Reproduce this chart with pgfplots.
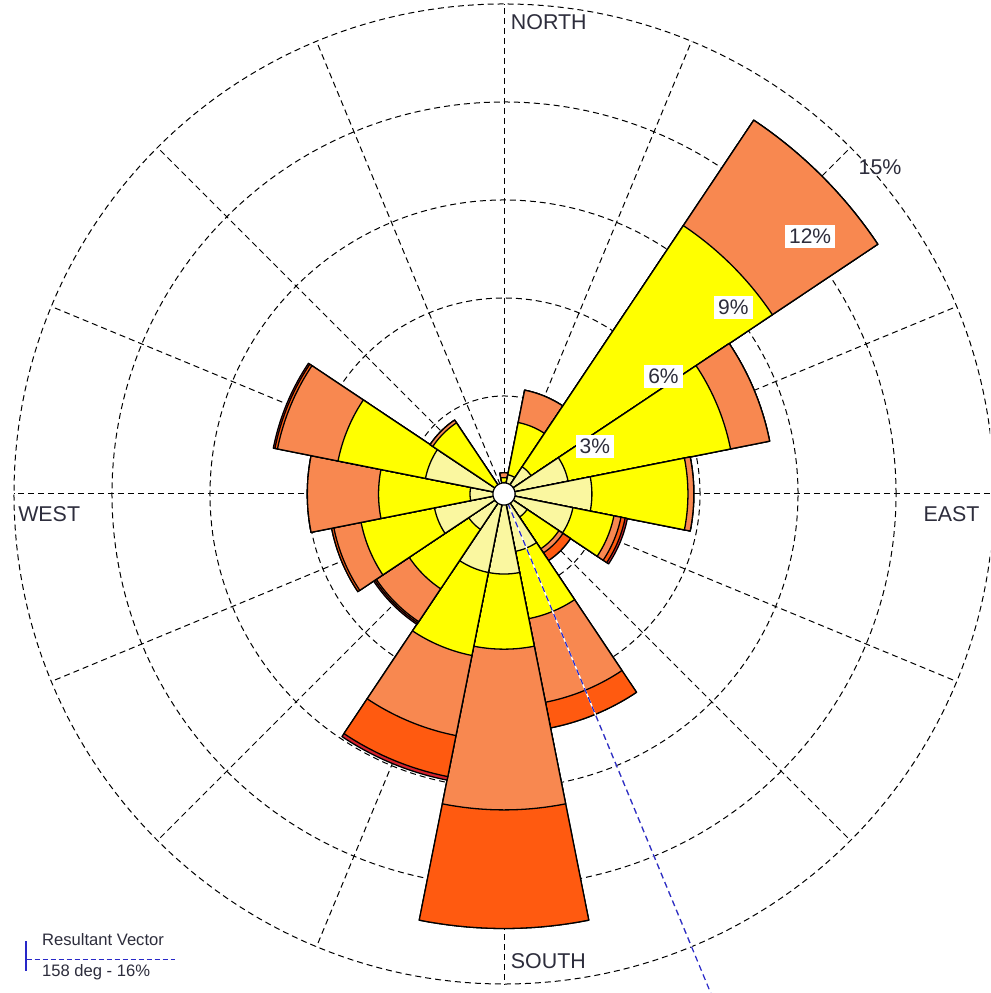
\documentclass[border=0pt]{standalone}
\usepackage{pgfplots}
\pgfplotsset{compat=1.18}
\usepackage{pgfplotstable}
\usepackage{fontspec}
\setmainfont{Liberation Sans}

% wind speed classes, innermost first
\definecolor{cls1}{RGB}{250,247,160}
\definecolor{cls2}{RGB}{255,255,0}
\definecolor{cls3}{RGB}{248,136,80}
\definecolor{cls4}{RGB}{255,90,16}
\definecolor{cls5}{RGB}{215,35,45}
\definecolor{vecblue}{RGB}{40,40,200}
\definecolor{labtext}{RGB}{45,45,60}

% cumulative frequency (%) per direction (bearing, deg) and speed class
\pgfplotstableread{
dir    c1    c2    c3     c4     c5
0      0.35  0.50  0.65   0.65   0.65
22.5   0.60  2.23  3.24   3.24   3.24
45     1.00  9.88  13.76  13.76  13.76
67.5   2.00  7.07  8.29   8.29   8.29
90     2.69  5.63  5.81   5.81   5.81
112.5  2.15  3.43  3.65   3.78   3.85
135    0.85  2.02  2.17   2.45   2.45
157.5  1.79  3.89  6.50   7.30   7.30
180    2.45  4.75  9.67   13.30  13.30
202.5  2.45  5.04  7.54   8.82   8.93
225    1.30  3.49  4.70   4.75   4.80
247.5  2.17  4.46  5.31   5.38   5.38
270    1.04  3.84  6.02   6.02   6.02
292.5  2.45  5.18  7.07   7.15   7.20
315    0.30  2.62  2.72   2.72   2.72
337.5  0.20  0.25  0.25   0.25   0.25
}\rosedata

\tikzset{
  gridline/.style={draw=black, line width=0.5pt, dash pattern=on 3pt off 2pt, mark=none},
  petal/.style={draw=black, line width=0.65pt, line join=round, mark=none},
  pctlabel/.style={fill=white, inner sep=2pt, text=labtext, font=\fontsize{10.5}{12}\selectfont},
  dirlabel/.style={text=labtext, inner sep=0pt, font=\fontsize{10.7}{12}\selectfont},
}

\begin{document}
\begin{tikzpicture}
\begin{axis}[
  scale only axis,
  width=495pt, height=496.5pt,
  xmin=-15.427, xmax=14.876,
  ymin=-15.274, ymax=15.121,
  hide axis,
  clip=true,
]
\fill[white] (rel axis cs:0,0) rectangle (rel axis cs:1,1);

% polar grid: rings every 3 % and 16 spokes
\pgfplotsinvokeforeach{3,6,9,12,15}{
  \addplot[gridline, domain=0:360, samples=241] ({#1*cos(x)},{#1*sin(x)});
}
\pgfplotsinvokeforeach{0,22.5,45,67.5,90,112.5,135,157.5,180,202.5,225,247.5,270,292.5,315,337.5}{
  \addplot[gridline, domain=0:15, samples=2] ({x*sin(#1)},{x*cos(#1)});
}

% petals: outer classes first, inner classes painted over them
\pgfplotsinvokeforeach{0,1,2,3,4,5,6,7,8,9,10,11,12,13,14,15}{
  \pgfplotstablegetelem{#1}{dir}\of\rosedata
  \pgfmathsetmacro\da{\pgfplotsretval-11.25}
  \pgfmathsetmacro\db{\pgfplotsretval+11.25}
  \foreach \k/\col in {5/cls5,4/cls4,3/cls3,2/cls2,1/cls1}{
    \edef\doget{\noexpand\pgfplotstablegetelem{#1}{c\k}\noexpand\of\noexpand\rosedata}\doget
    \edef\doit{\noexpand\addplot[petal, fill=\col, domain=\da:\db, samples=19]
      ({\pgfplotsretval*sin(x)},{\pgfplotsretval*cos(x)}) -- (axis cs:0,0) -- cycle;}\doit
  }
}

% resultant vector, 158 deg
\addplot[draw=white, line width=0.7pt, domain=0:16.8, samples=2] ({x*sin(157.5)},{x*cos(157.5)});
\addplot[draw=vecblue, line width=0.6pt, dash pattern=on 3pt off 2pt, domain=0:16.8, samples=2] ({x*sin(157.5)},{x*cos(157.5)});

% calm circle
\addplot[fill=white, draw=black, line width=0.65pt, domain=0:360, samples=61] ({0.34*cos(x)},{0.34*sin(x)}) -- cycle;

% ring labels
\node[pctlabel] at (axis cs:2.78,1.45) {3\%};
\node[pctlabel] at (axis cs:4.88,3.60) {6\%};
\node[pctlabel] at (axis cs:7.02,5.70) {9\%};
\node[pctlabel] at (axis cs:9.37,7.89) {12\%};
\node[dirlabel] at (axis cs:11.51,10.0) {15\%};

% compass labels
\node[dirlabel, anchor=west] at (axis cs:0.20,14.43) {NORTH};
\node[dirlabel, anchor=west] at (axis cs:0.20,-14.31) {SOUTH};
\node[dirlabel, anchor=west] at (axis cs:12.83,-0.61) {EAST};
\node[dirlabel, anchor=west] at (axis cs:-14.88,-0.61) {WEST};

% resultant vector key
\draw[vecblue, line width=0.8pt] (axis cs:-14.64,-13.69) -- (axis cs:-14.64,-14.61);
\draw[vecblue, line width=0.6pt, dash pattern=on 2.5pt off 1.5pt] (axis cs:-14.61,-14.25) -- (axis cs:-10.07,-14.25);
\node[anchor=west, inner sep=0pt, text=labtext, font=\fontsize{8.3}{10}\selectfont] at (axis cs:-14.15,-13.64) {Resultant Vector};
\node[anchor=west, inner sep=0pt, text=labtext, font=\fontsize{8.3}{10}\selectfont] at (axis cs:-14.15,-14.65) {158 deg - 16\%};

\path (rel axis cs:0,0) rectangle (rel axis cs:1,1);
\end{axis}
\end{tikzpicture}
\end{document}
